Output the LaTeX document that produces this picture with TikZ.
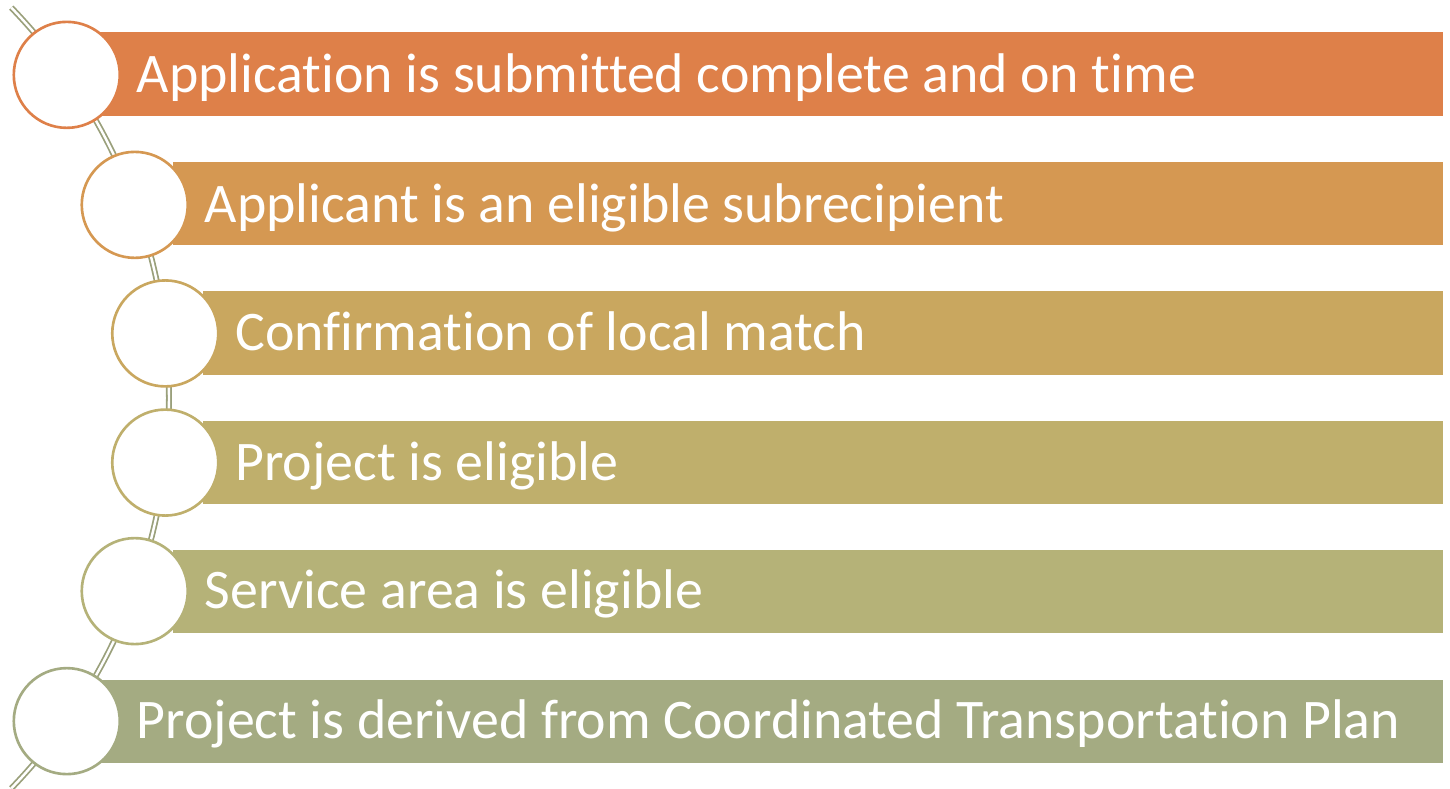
\documentclass[tikz,border=0pt]{standalone}
\usepackage{fontspec}
\setmainfont{Carlito}[Ligatures=NoCommon]
\usetikzlibrary{positioning}

\definecolor{barA}{HTML}{DE8049}
\definecolor{barB}{HTML}{D59852}
\definecolor{barC}{HTML}{C9A75F}
\definecolor{barD}{HTML}{BFAF6C}
\definecolor{barE}{HTML}{B5B278}
\definecolor{barF}{HTML}{A4AB82}
\definecolor{sage}{HTML}{9AA07B}

\begin{document}
\begin{tikzpicture}[
  dot/.style={circle,draw=#1,fill=white,line width=0.75pt,minimum size=1.06cm,inner sep=0},
  label/.style={text=white,font=\fontsize{15.9}{18}\selectfont,anchor=west,inner sep=0,text height=0.35cm,text depth=0pt},
  link/.style={draw=sage,line width=0.5pt,double=white,double distance=0.7pt}
]
 \useasboundingbox (0,0) rectangle (14.5,7.88);
 \coordinate (o) at (-3.93,3.90);
 \coordinate (arctop) at ([shift={(44:5.62)}]o);

 \fill[barA](1.00,6.72) rectangle (14.43,7.56);
 \fill[barB](1.73,5.43) rectangle (14.43,6.26);
 \fill[barC](2.03,4.13) rectangle (14.43,4.97);
 \fill[barD](2.03,2.84) rectangle (14.43,3.67);
 \fill[barE](1.73,1.55) rectangle (14.43,2.38);
 \fill[barF](1.00,0.25) rectangle (14.43,1.08);

 \draw[link](arctop) arc[start angle=44,end angle=-44,radius=5.62];

 \node[dot=barA] (c1) at ([shift={(35.1:5.62)}]o) {};
 \node[dot=barB] (c2) at ([shift={(20.1:5.62)}]o) {};
 \node[dot=barC] (c3) at ([shift={(6.6:5.62)}]o) {};
 \node[dot=barD] (c4) at ([shift={(-6.6:5.62)}]o) {};
 \node[dot=barE] (c5) at ([shift={(-20.1:5.62)}]o) {};
 \node[dot=barF] (c6) at ([shift={(-35.1:5.62)}]o) {};

 \node[label,right=0.15 of c1] (t1) {Application is submitted complete and on time};
 \node[label,right=0.15 of c2] (t2) {Applicant is an eligible subrecipient};
 \node[label,right=0.15 of c3] (t3) {Confirmation of local match};
 \node[label,right=0.15 of c4] (t4) {Project is eligible};
 \node[label,right=0.15 of c5] (t5) {Service area is eligible};
 \node[label,right=0.15 of c6] (t6) {Project is derived from Coordinated Transportation Plan};
\end{tikzpicture}
\end{document}
